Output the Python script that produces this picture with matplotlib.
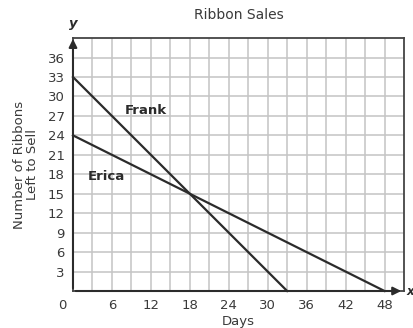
import matplotlib

matplotlib.use("Agg")

import matplotlib.pyplot as plt

days_ticks = [6, 12, 18, 24, 30, 36, 42, 48]
ribbon_ticks = [3, 6, 9, 12, 15, 18, 21, 24, 27, 30, 33, 36]

frank_days = [0, 33]
frank_left = [33, 0]
erica_days = [0, 48]
erica_left = [24, 0]

text_color = "#3a3a3a"
line_color = "#2b2b2b"

fig = plt.figure(figsize=(4.14, 3.28), dpi=100)
ax = fig.add_axes([0.1763, 0.1128, 0.7995, 0.771])

ax.set_xlim(0, 51)
ax.set_ylim(0, 39)

# grid every 3 units, labels only on some
ax.set_xticks(days_ticks)
ax.set_yticks(ribbon_ticks)
ax.set_xticks([v for v in range(3, 51, 3) if v not in days_ticks], minor=True)
ax.grid(which="both", color="#c4c4c4", linewidth=1.1)
ax.set_axisbelow(True)
ax.tick_params(which="both", length=0, labelsize=9.5, labelcolor=text_color, pad=6)

for side in ["top", "right", "left", "bottom"]:
    ax.spines[side].set_color("#444444")
    ax.spines[side].set_linewidth(1.3)

ax.plot(frank_days, frank_left, color=line_color, linewidth=1.6, clip_on=False)
ax.plot(erica_days, erica_left, color=line_color, linewidth=1.6, clip_on=False)

ax.text(8, 27.8, "Frank", fontsize=9.5, fontweight="bold", color=line_color, va="center")
ax.text(2.3, 17.6, "Erica", fontsize=9.5, fontweight="bold", color=line_color, va="center")

# axis arrows
ax.annotate("", xy=(0, 39.3), xytext=(0, 0),
            arrowprops=dict(arrowstyle="-|>", color=line_color, lw=1.5, mutation_scale=12),
            annotation_clip=False)
ax.annotate("", xy=(51, 0), xytext=(0, 0),
            arrowprops=dict(arrowstyle="-|>", color=line_color, lw=1.5, mutation_scale=12),
            annotation_clip=False)
ax.text(0, 40.3, "y", fontsize=9.5, fontweight="bold", fontstyle="italic",
        color=line_color, ha="center", va="bottom")
ax.annotate("x", xy=(51, 0), xytext=(1.5, 0), textcoords="offset points",
            fontsize=8.5, fontweight="bold", fontstyle="italic",
            color=line_color, ha="left", va="center", annotation_clip=False)
ax.annotate("0", xy=(0, 0), xytext=(-8, -6), textcoords="offset points",
            fontsize=9.5, color=text_color, ha="center", va="top",
            annotation_clip=False)

ax.set_title("Ribbon Sales", fontsize=10, color=text_color, pad=14)
ax.set_xlabel("Days", fontsize=9.5, color=text_color, labelpad=2)
ax.set_ylabel("Number of Ribbons\nLeft to Sell", fontsize=9.5, color=text_color,
              labelpad=6, linespacing=1.0)

plt.savefig("out.png", dpi=100)
plt.close()
